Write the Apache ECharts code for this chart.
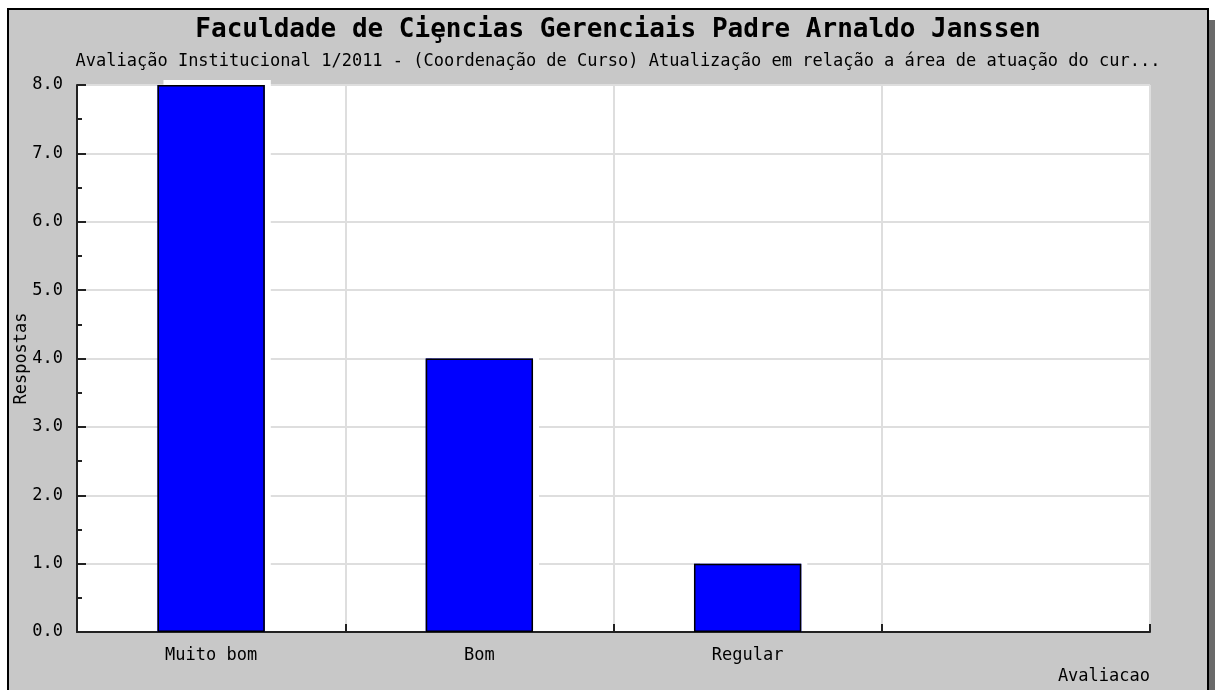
<!DOCTYPE html>
<html>
<head>
<meta charset="utf-8">
<script src="https://cdn.jsdelivr.net/npm/echarts@6/dist/echarts.min.js"></script>
<style>html,body{margin:0;padding:0;background:#fff}#c{width:1215px;height:690px}</style>
</head>
<body>
<div id="c"></div>
<script>
const titleText = 'Faculdade de Ciȩncias Gerenciais Padre Arnaldo Janssen';
const subtitleText = 'Avaliação Institucional 1/2011 - (Coordenação de Curso) Atualização em relação a área de atuação do cur...';
const categories = ['Muito bom', 'Bom', 'Regular', ''];
const respostas = [8, 4, 1, null];
const yAxisName = 'Respostas';
const xAxisName = 'Avaliacao';

const mono = '"DejaVu Sans Mono", "Liberation Mono", monospace';
const chart = echarts.init(document.getElementById('c'), null, {renderer: 'canvas'});
chart.setOption({
  backgroundColor: '#ffffff',
  animation: false,
  graphic: [
    {type: 'rect', z: -10, shape: {x: 1209, y: 20, width: 6, height: 680}, style: {fill: '#6a6a6a'}},
    {type: 'rect', z: -9, shape: {x: 8, y: 9, width: 1200, height: 690}, style: {fill: '#c8c8c8', stroke: '#000', lineWidth: 2}}
  ],
  title: [
    {text: titleText, left: 613, top: 12, textAlign: 'center',
     textStyle: {fontFamily: mono, fontSize: 26, fontWeight: 'bold', color: '#000'}},
    {text: subtitleText, left: 613, top: 48, textAlign: 'center',
     textStyle: {fontFamily: mono, fontSize: 17, fontWeight: 'normal', color: '#000'}}
  ],
  grid: {left: 77, right: 65, top: 85, bottom: 58, show: true, backgroundColor: '#fff', borderWidth: 0,
         containLabel: false, outerBoundsMode: 'none'},
  xAxis: {
    type: 'category', data: categories, boundaryGap: true,
    name: xAxisName, nameLocation: 'end', nameGap: 0, nameMoveOverlap: false,
    nameTextStyle: {fontFamily: mono, fontSize: 17, color: '#000', align: 'right', verticalAlign: 'top', padding: [36, 0, 0, 0]},
    axisLine: {lineStyle: {color: '#222', width: 2}},
    axisTick: {show: true, inside: true, length: 8, alignWithLabel: false, lineStyle: {color: '#222', width: 2}},
    axisLabel: {fontFamily: mono, fontSize: 17, color: '#000', margin: 15},
    splitLine: {show: true, lineStyle: {color: '#dedede', width: 2}}
  },
  yAxis: {
    type: 'value', min: 0, max: 8, interval: 1,
    name: yAxisName, nameLocation: 'middle', nameGap: 47, nameRotate: 90, nameMoveOverlap: false,
    nameTextStyle: {fontFamily: mono, fontSize: 17, color: '#000'},
    axisLine: {show: true, lineStyle: {color: '#222', width: 2}},
    axisTick: {show: true, inside: true, length: 9, lineStyle: {color: '#222', width: 2}},
    minorTick: {show: true, splitNumber: 2, length: 5, lineStyle: {color: '#222', width: 2}},
    axisLabel: {fontFamily: mono, fontSize: 17, color: '#000', margin: 14, formatter: v => v.toFixed(1)},
    splitLine: {show: true, lineStyle: {color: '#dedede', width: 2}}
  },
  series: [
    {
      type: 'bar', data: respostas, barWidth: '40%', z: 2,
      itemStyle: {color: '#0000ff', borderWidth: 0,
        shadowColor: '#ffffff', shadowBlur: 0, shadowOffsetX: 6, shadowOffsetY: -5}
    },
    {
      type: 'bar', data: respostas, barWidth: '40%', barGap: '-100%', z: 3,
      itemStyle: {color: 'rgba(0,0,0,0)', borderColor: '#000', borderWidth: 1.5}
    }
  ]
});
</script>
</body>
</html>
